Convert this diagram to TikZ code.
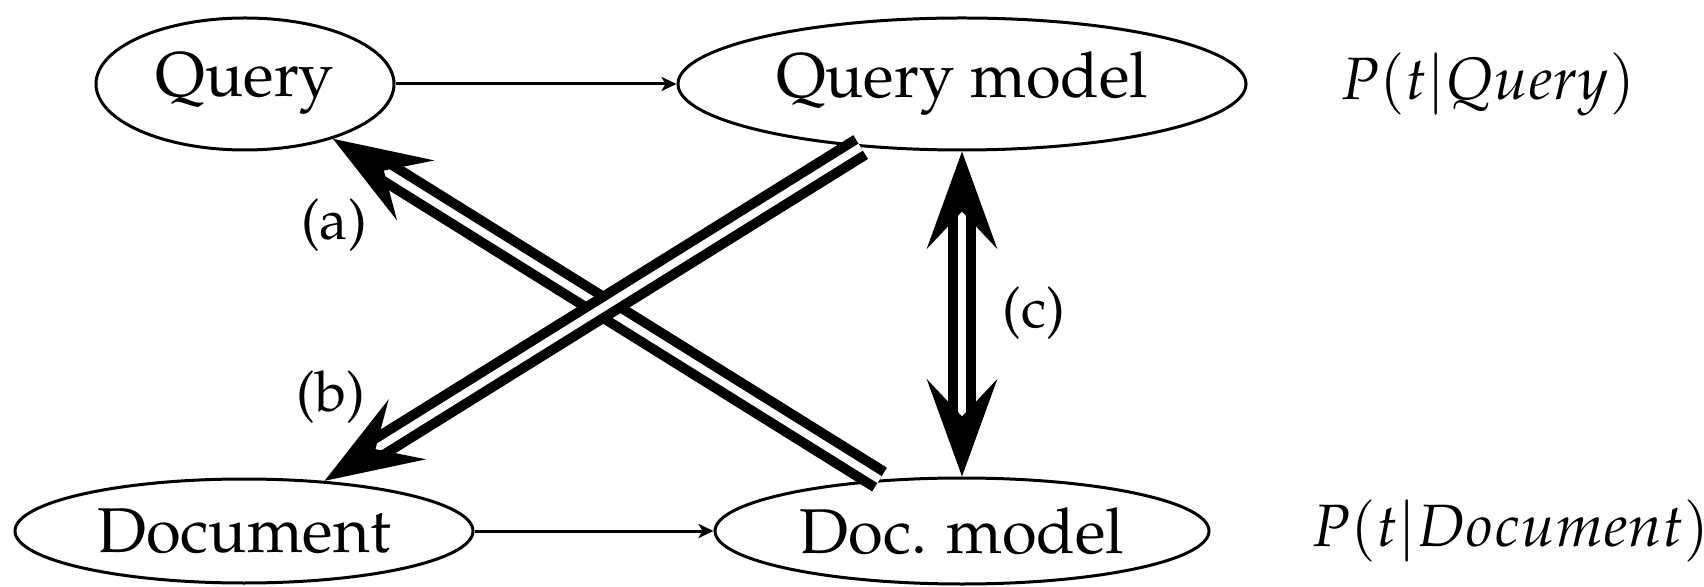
\documentclass[tikz,border=0pt]{standalone}
\usepackage[T1]{fontenc}
\usepackage{mathpazo}
\usetikzlibrary{shapes.geometric, arrows.meta, positioning}

\begin{document}
\begin{tikzpicture}[
  % Ellipse für Anfrage, Dokument und Modelle
  modell/.style={
    ellipse,
    draw,
    line width=0.03cm,
    inner sep=0pt,
    font=\fontsize{18}{20}\selectfont
  },
  % Dünner Pfeil zwischen Objekt und Modell
  duenn/.style={
    line width=0.03cm,
    >={Stealth[length=0.15cm, width=0.14cm, inset=0.04cm]}
  },
  % Dicker Doppelpfeil
  doppelt/.style={
    double,
    double distance=0.08cm,
    line width=0.1cm,
    line cap=butt,
    >={Stealth[length=0.97cm, width=0.70cm, inset=0.37cm]}
  },
  % Kennbuchstabe am Pfeil
  kennz/.style={
    font=\fontsize{16}{18}\selectfont
  },
  % Verteilung rechts
  wkeit/.style={
    font=\fontsize{17}{20}\selectfont,
    anchor=west
  }
]

% =============================================================================
% RAHMEN
% =============================================================================
\useasboundingbox (0,0) rectangle (17.04,5.86);

% =============================================================================
% ELLIPSEN
% =============================================================================
\node[modell, minimum width=2.98cm, minimum height=1.32cm] (query) at (2.45,5.02) {Query};
\node[modell, minimum width=5.68cm, minimum height=1.32cm] (qmodel) at (9.62,5.02) {Query model};
\node[modell, minimum width=4.58cm, minimum height=1.04cm] (doc) at (2.44,0.55) {Document};
\node[modell, minimum width=4.94cm, minimum height=1.06cm] (dmodel) at (9.62,0.55) {Doc. model};

% =============================================================================
% VERTEILUNGEN (rechts)
% =============================================================================
\node[wkeit] (pquery) at (13.28,5.02) {$P(t|Query)$};
\node[wkeit] (pdoc) at (12.99,0.55) {$P(t|Document)$};

% =============================================================================
% PFEILE
% =============================================================================
\draw[duenn, ->] (query) -- (qmodel);
\draw[duenn, ->] (doc) -- (dmodel);

% (a) und (b) kreuzen sich
\draw[doppelt, ->] (dmodel) -- (query);
\draw[doppelt, ->] (qmodel) -- (doc);

% (c) senkrecht
\draw[doppelt, <->] (qmodel) -- (dmodel);

% Kennbuchstaben
\node[kennz] (la) at (3.34,3.61) {(a)};
\node[kennz] (lb) at (3.31,1.89) {(b)};
\node[kennz] (lc) at (10.34,2.73) {(c)};

\end{tikzpicture}
\end{document}
